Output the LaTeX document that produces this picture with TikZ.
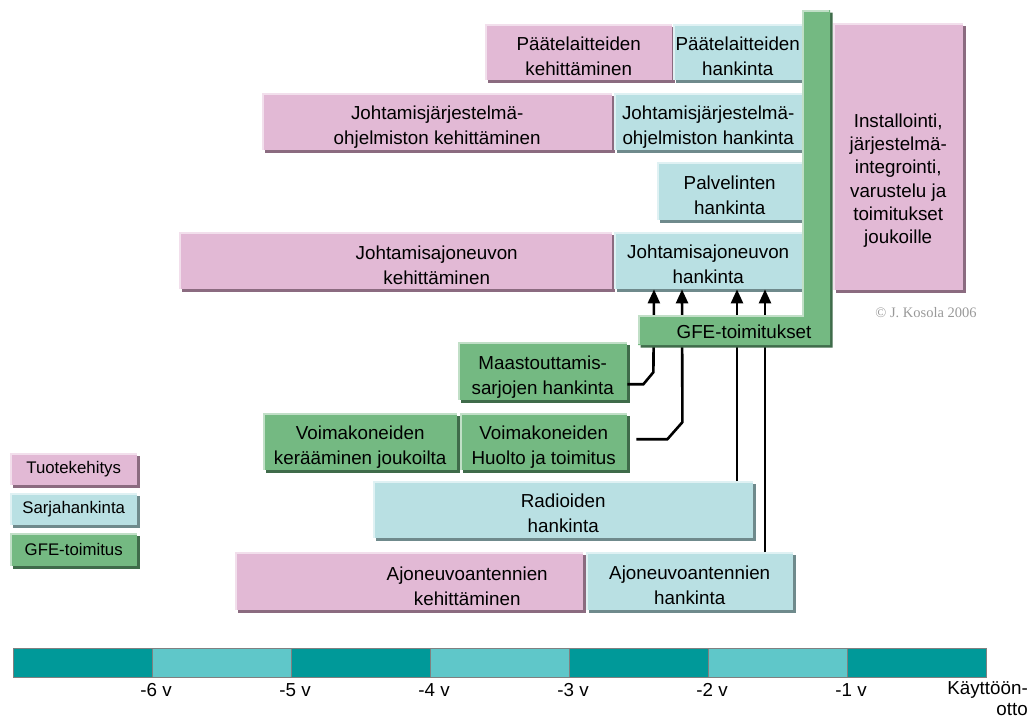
\documentclass[tikz,border=0pt]{standalone}
\usepackage{fontspec}
\setmainfont{Liberation Sans}
\newfontfamily\notefont{Liberation Serif}
\usetikzlibrary{arrows.meta, positioning, calc, shadows}
\definecolor{devpink}{HTML}{E2B9D5}
\definecolor{devpinkdark}{HTML}{8B6B80}
\definecolor{buyteal}{HTML}{B9E0E3}
\definecolor{buytealdark}{HTML}{6F8A8C}
\definecolor{gfegreen}{HTML}{74B982}
\definecolor{gfegreendark}{HTML}{3F6B4A}
\definecolor{yeardark}{HTML}{009999}
\definecolor{yearlight}{HTML}{5FC7C9}
\definecolor{notegray}{HTML}{999999}
\newcommand{\boxfont}{\fontsize{18.8}{25}\selectfont}
\newcommand{\legfont}{\fontsize{16.8}{20}\selectfont}

\begin{document}
\begin{tikzpicture}[x=1pt, y=-1pt,
    phase/.style 2 args={rectangle, anchor=north west, inner sep=0pt, align=center,
        fill=#1, general shadow={fill=#2, shadow xshift=2.5pt, shadow yshift=-2.5pt},
        path picture={\draw[line width=3pt, #1!45!white] (path picture bounding box.south west) |- (path picture bounding box.north east);}},
    twoline/.style={font=\boxfont, text height=46pt, text depth=0pt},
    devbox/.style={phase={devpink}{devpinkdark}, twoline},
    buybox/.style={phase={buyteal}{buytealdark}, twoline},
    gfebox/.style={phase={gfegreen}{gfegreendark}, twoline},
    boxsize/.style 2 args={minimum width=#1pt, minimum height=#2pt},
    boxlabel/.style={font=\boxfont, align=center, yshift=-5pt},
    legend/.style 2 args={phase={#1}{#2}, boxsize={127}{32}, font=\legfont},
    feed/.style={line width=2.6pt, -{Triangle[length=14pt, width=12pt]}},
    yearseg/.style={draw=gray, line width=0.8pt},
    yearlabel/.style={font=\fontsize{18.8}{21}\selectfont}
]
\useasboundingbox (0,0) rectangle (1029,720);

% Development and procurement phases
\node[devbox, boxsize={187}{56}] (pdev) at (485,24) {Päätelaitteiden\\kehittäminen};
\node[buybox, boxsize={129}{56}] (pbuy) at (673,24) {Päätelaitteiden\\hankinta};
\node[devbox, boxsize={350}{57}] (jdev) at (262,93) {Johtamisjärjestelmä-\\ohjelmiston kehittäminen};
\node[buybox, boxsize={188}{57}] (jbuy) at (614,93) {Johtamisjärjestelmä-\\ohjelmiston hankinta};
\node[buybox, boxsize={145}{58}] (pal) at (657,162) {Palvelinten\\hankinta};
\node[devbox, boxsize={433}{57}, label={[boxlabel, xshift=41pt]center:Johtamisajoneuvon\\kehittäminen}] (adev) at (179,232) {};
\node[buybox, boxsize={188}{57}] (jvhank) at (614,232) {Johtamisajoneuvon\\hankinta};
\node[devbox, boxsize={130}{267}, label={[font=\fontsize{18.8}{23.3}\selectfont, align=center, yshift=-24pt]center:Installointi,\\järjestelmä-\\integrointi,\\varustelu ja\\toimitukset\\joukoille}] (inst) at (833,23) {};

% Supplies from the forces
\node[gfebox, boxsize={169}{58}] (maast) at (458,342) {Maastouttamis-\\sarjojen hankinta};
\node[gfebox, boxsize={194}{57}] (vker) at (263,413) {Voimakoneiden\\kerääminen joukoilta};
\node[gfebox, boxsize={167}{57}] (vhuolto) at (460,413) {Voimakoneiden\\Huolto ja toimitus};
\node[buybox, boxsize={380}{57}] (radio) at (373,481) {Radioiden\\hankinta};
\node[devbox, boxsize={348}{58}, label={[boxlabel, xshift=58pt]center:Ajoneuvoantennien\\kehittäminen}] (antdev) at (235,552) {};
\node[buybox, boxsize={207}{58}] (antbuy) at (586,552) {Ajoneuvoantennien\\hankinta};

% Feeds into the vehicle
\coordinate (f1) at (654,0);
\coordinate (f2) at (682,0);
\coordinate (f3) at (737,0);
\coordinate (f4) at (765,0);
\draw[feed] ([yshift=-13pt]maast.east) -- ++(16,0) -- ++(10,-12) -- (f1 |- jvhank.south);
\draw[feed] ([xshift=9pt, yshift=2.5pt]vhuolto.east) -- ++(31,0) -- ++(15,-17) -- (f2 |- jvhank.south);
\draw[feed] (f3 |- radio.north) -- (f3 |- jvhank.south);
\draw[feed] (f4 |- antbuy.north) -- (f4 |- jvhank.south);

% GFE deliveries (L-shaped bar)
\fill[gfegreendark, shift={(2.5,2.5)}] (802,10) -- (830,10) -- (830,345) -- (638,345) -- (638,315) -- (802,315) -- cycle;
\fill[gfegreen] (802,10) -- (830,10) -- (830,345) -- (638,345) -- (638,315) -- (802,315) -- cycle;
\draw[gfegreen!45!white, line width=1.5pt] (639,344) -- (639,316) -- (803,316) -- (803,11) -- (829,11);
\node[font=\boxfont] (gfe) at (744,332) {GFE-toimitukset};

\node[font=\notefont\fontsize{14.5}{16}\selectfont, text=notegray] (note) at (926,313) {© J. Kosola 2006};

% Legend
\node[legend={devpink}{devpinkdark}] (leg1) at (10,453) {Tuotekehitys};
\node[legend={buyteal}{buytealdark}] (leg2) at (10,493) {Sarjahankinta};
\node[legend={gfegreen}{gfegreendark}, minimum height=33pt] (leg3) at (10,533) {GFE-toimitus};

% Time axis
\foreach \i [evaluate=\i as \xs using 13+\i*139] in {0,...,6} {
    \ifodd\i \def\segcol{yearlight}\else \def\segcol{yeardark}\fi
    \draw[yearseg, fill=\segcol] (\xs,648) rectangle ++(139,29);
}
\foreach \i in {1,...,6} {
    \pgfmathtruncatemacro\yr{7-\i}
    \node[yearlabel] (yr\i) at (17+\i*139,690) {-\yr{} v};
}
\node[yearlabel, anchor=north east, align=right, inner sep=1pt] (use) at (1029,680) {Käyttöön-\\otto};

\end{tikzpicture}
\end{document}
